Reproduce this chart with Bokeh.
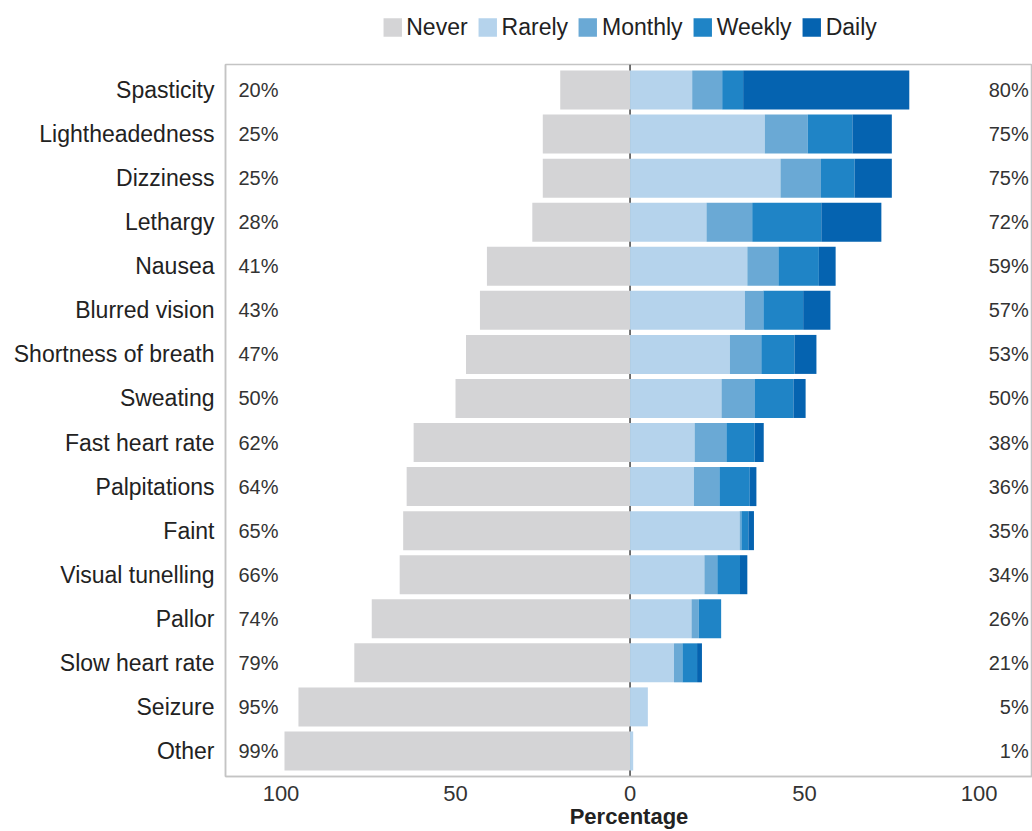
from bokeh.plotting import figure
from bokeh.layouts import column
from bokeh.models import (FactorRange, Range1d, Legend, LegendItem, FixedTicker,
                          CustomJSTickFormatter, Span, ColumnDataSource)
from bokeh.core.properties import value
from bokeh.embed import file_html
from bokeh.resources import INLINE

categories = ["Spasticity", "Lightheadedness", "Dizziness", "Lethargy", "Nausea",
              "Blurred vision", "Shortness of breath", "Sweating", "Fast heart rate",
              "Palpitations", "Faint", "Visual tunelling", "Pallor", "Slow heart rate",
              "Seizure", "Other"]
never = [20, 25, 25, 28, 41, 43, 47, 50, 62, 64, 65, 66, 74, 79, 95, 99]
rarely = [17.8, 38.6, 43.1, 21.9, 33.6, 32.9, 28.6, 26.2, 18.5, 18.3, 31.4, 21.3, 17.6, 12.6, 5.1, 0.9]
monthly = [8.6, 12.3, 11.6, 13.1, 8.9, 5.3, 9.0, 9.6, 9.1, 7.3, 0.5, 3.7, 2.1, 2.4, 0, 0]
weekly = [6.0, 12.8, 9.6, 19.8, 11.6, 11.4, 9.5, 11.0, 8.1, 8.7, 2.0, 6.5, 6.4, 4.2, 0, 0]
daily = [47.6, 11.3, 10.7, 17.2, 4.8, 7.8, 6.3, 3.5, 2.6, 1.9, 1.6, 2.1, 0, 1.4, 0, 0]
never_labels = ["20%", "25%", "25%", "28%", "41%", "43%", "47%", "50%", "62%", "64%",
                "65%", "66%", "74%", "79%", "95%", "99%"]
ever_labels = ["80%", "75%", "75%", "72%", "59%", "57%", "53%", "50%", "38%", "36%",
               "35%", "34%", "26%", "21%", "5%", "1%"]
series_names = ["Never", "Rarely", "Monthly", "Weekly", "Daily"]
colors = ["#d4d4d6", "#b5d3ec", "#6aa9d5", "#1f84c6", "#0563b0"]
tick_values = [-100, -50, 0, 50, 100]

FONT = "Liberation Sans"
W = 1032
LEG_H = 62
MAIN_H = 831 - LEG_H

# ---- legend strip (swatches drawn by the legend; proxy glyphs lie outside the view) ----
lg = figure(width=W, height=LEG_H, x_range=Range1d(0, 1), y_range=Range1d(0, 1),
            output_backend="svg", toolbar_location=None, x_axis_type=None, y_axis_type=None,
            min_border=0, min_border_bottom=8, min_border_left=8, outline_line_color=None)
lg.xgrid.visible = False
lg.ygrid.visible = False
leg_renderers = []
for col in colors:
    leg_renderers.append(lg.hbar(y=[10], left=[10], right=[11], height=1,
                                 fill_color=col, line_color=None))
legend = Legend(items=[LegendItem(label=n, renderers=[r]) for n, r in zip(series_names, leg_renderers)],
                orientation="horizontal", location="center",
                glyph_width=23, glyph_height=23, label_standoff=3, spacing=8,
                padding=0, margin=0, border_line_color=None, background_fill_alpha=0,
                label_text_font=FONT, label_text_font_size="23px", label_text_color="#222222",
                label_height=23)
lg.add_layout(legend, "center")

# ---- main chart ----
p = figure(width=W, height=MAIN_H,
           y_range=FactorRange(factors=categories[::-1], range_padding=0.01),
           x_range=Range1d(-115.9, 115.3),
           output_backend="svg", toolbar_location=None,
           min_border_left=225, min_border_right=0, min_border_top=2,
           min_border_bottom=0,
           background_fill_color="white", border_fill_color="white")

p.add_layout(Span(location=0, dimension="height", line_color="#444444",
                  line_width=1.5, level="underlay"))

src = ColumnDataSource(dict(y=categories, left=[-v for v in never], right=[0] * len(never)))
p.hbar(y="y", left="left", right="right", height=0.885, source=src,
       fill_color=colors[0], line_color=None)

cum = [0.0] * len(categories)
for vals, col in zip([rarely, monthly, weekly, daily], colors[1:]):
    left = cum[:]
    right = [a + b for a, b in zip(cum, vals)]
    s = ColumnDataSource(dict(y=categories, left=left, right=right))
    p.hbar(y="y", left="left", right="right", height=0.885, source=s,
           fill_color=col, line_color=None)
    cum = right

lab_src = ColumnDataSource(dict(y=categories, nl=never_labels, el=ever_labels))
p.text(x=-112.2, y="y", text="nl", source=lab_src, text_align="left",
       text_baseline="middle", text_font=value(FONT), text_font_size="20px",
       text_color="#333333")
p.text(x=114.2, y="y", text="el", source=lab_src, text_align="right",
       text_baseline="middle", text_font=value(FONT), text_font_size="20px",
       text_color="#333333")

p.xgrid.visible = False
p.ygrid.visible = False
p.outline_line_color = "#c4c4c4"
p.outline_line_width = 1.5

p.xaxis.ticker = FixedTicker(ticks=tick_values)
p.xaxis.formatter = CustomJSTickFormatter(code="return Math.abs(tick).toString()")
p.xaxis.axis_label = "Percentage"
p.xaxis.axis_label_text_font = FONT
p.xaxis.axis_label_text_font_style = "bold"
p.xaxis.axis_label_text_font_size = "22px"
p.xaxis.axis_label_text_color = "#222222"
p.xaxis.axis_label_standoff = 0
p.xaxis.major_label_text_font = FONT
p.xaxis.major_label_text_font_size = "22px"
p.xaxis.major_label_text_color = "#333333"
p.xaxis.major_label_standoff = 3
p.xaxis.major_tick_line_color = None
p.xaxis.minor_tick_line_color = None
p.xaxis.axis_line_color = "#c4c4c4"
p.xaxis.axis_line_width = 1.5

p.yaxis.major_label_text_font = FONT
p.yaxis.major_label_text_font_size = "23px"
p.yaxis.major_label_text_color = "#222222"
p.yaxis.major_label_standoff = 5
p.yaxis.major_tick_line_color = None
p.yaxis.minor_tick_line_color = None
p.yaxis.axis_line_color = "#c4c4c4"
p.yaxis.axis_line_width = 1.5

layout = column(lg, p, spacing=0)
open("out.html", "w").write(file_html(layout, INLINE))
